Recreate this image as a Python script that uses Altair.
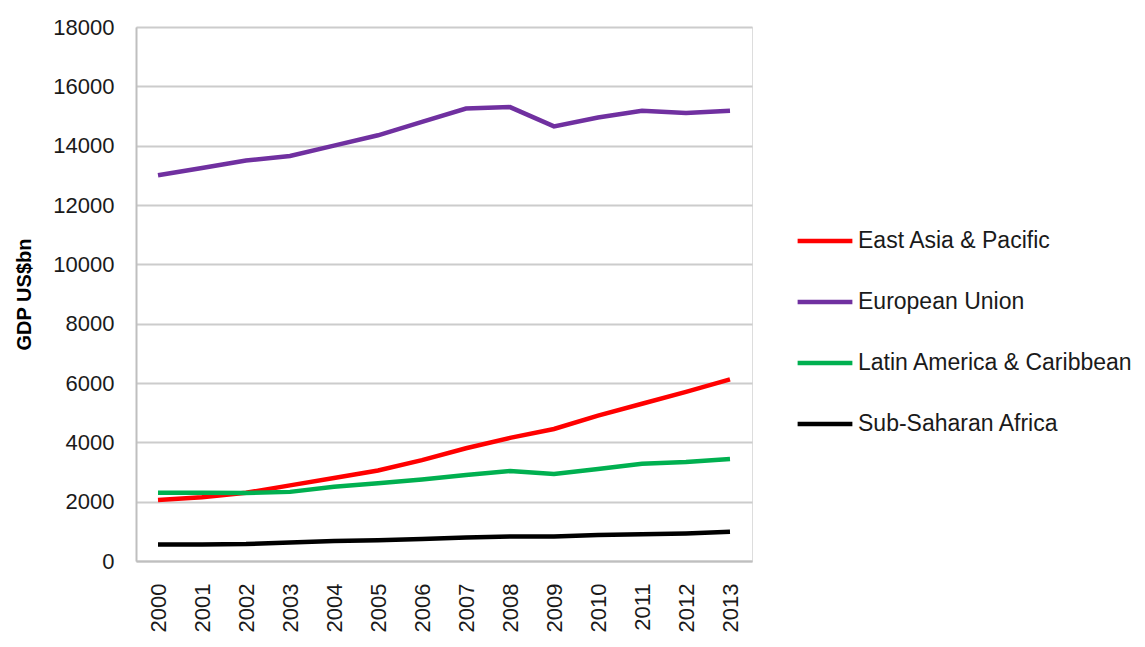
import altair as alt
import pandas as pd

years = [str(y) for y in range(2000, 2014)]
series_names = ["East Asia & Pacific", "European Union", "Latin America & Caribbean", "Sub-Saharan Africa"]
east_asia = [2060, 2150, 2300, 2550, 2800, 3050, 3400, 3800, 4150, 4450, 4900, 5300, 5700, 6120]
eu = [13000, 13250, 13500, 13650, 14000, 14350, 14800, 15250, 15300, 14650, 14950, 15180, 15100, 15180]
latam = [2300, 2300, 2290, 2330, 2500, 2620, 2750, 2900, 3030, 2930, 3100, 3280, 3340, 3440]
ssa = [560, 560, 570, 620, 670, 700, 740, 790, 830, 830, 880, 900, 930, 990]
colors = ["#FF0000", "#7030A0", "#00B050", "#000000"]

rows = []
for name, vals in zip(series_names, [east_asia, eu, latam, ssa]):
    for y, v in zip(years, vals):
        rows.append({"Year": y, "Region": name, "GDP": v})
df = pd.DataFrame(rows)

font = "Liberation Sans, sans-serif"

chart = alt.Chart(df).mark_line(strokeWidth=4.5).encode(
    x=alt.X("Year:O", sort=years, scale=alt.Scale(paddingOuter=0.5),
            axis=alt.Axis(title=None, labelAngle=-90, labelAlign="right", labelBaseline="middle",
                          labelPadding=22, ticks=False, labelFontSize=22, labelColor="#1a1a1a",
                          labelFont=font, domainColor="#bfbfbf", domainWidth=2, grid=False)),
    y=alt.Y("GDP:Q", scale=alt.Scale(domain=[0, 18000]),
            axis=alt.Axis(title="GDP US$bn", values=list(range(0, 18001, 2000)), format="d", ticks=False,
                          labelFontSize=22, labelColor="#1a1a1a", labelFont=font, labelPadding=22,
                          titleFontSize=20, titleFont=font, titleFontWeight="bold",
                          titleColor="#000000", titlePadding=18, domainColor="#bfbfbf", domainWidth=2,
                          gridColor="#cccccc", gridWidth=2)),
    color=alt.Color("Region:N", scale=alt.Scale(domain=series_names, range=colors),
                    legend=alt.Legend(title=None, orient="none", legendX=659, legendY=184,
                                      symbolType="stroke", symbolSize=3000, symbolStrokeWidth=4.5,
                                      labelFontSize=23, labelFont=font, labelColor="#1a1a1a",
                                      labelLimit=400, rowPadding=19, labelOffset=3)),
).properties(
    width=616, height=534,
    autosize=alt.AutoSizeParams(type="none"),
    padding={"left": 136, "top": 27, "right": 393, "bottom": 86},
).configure_view(stroke=None).configure(background="#ffffff")

chart.save("out.html", embed_options={"renderer": "svg", "actions": False})
